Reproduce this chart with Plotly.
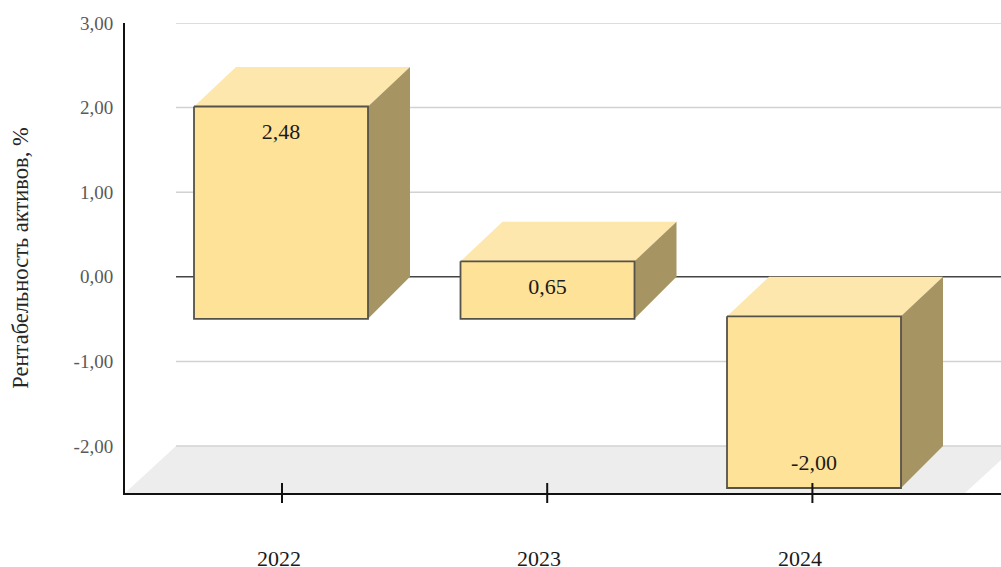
import plotly.graph_objects as go

years = ["2022", "2023", "2024"]
values = [2.48, 0.65, -2.00]
y_ticks = [3, 2, 1, 0, -1, -2]
y_tick_labels = ["3,00", "2,00", "1,00", "0,00", "-1,00", "-2,00"]
y_title = "Рентабельность активов, %"

W, H = 1001, 567
L, R, T, B = 125, 0, 23, 74
FONT = "Liberation Serif"

# axis scales (one x unit = distance between category ticks)
PX_X = 265.2
PX_Y = 84.6
X0 = -(282 - L) / PX_X
X1 = X0 + (W - L - R) / PX_X
Y1 = 3.0
Y0 = Y1 - (H - T - B) / PX_Y

HALF = 87 / PX_X
DEPTH_X = 42 / PX_X
DEPTH_TOP = 39.5 / PX_Y
DEPTH_BOTTOM = 42 / PX_Y
BAR_STEP = 266.5 / PX_X
BAR_OFFSET = -1 / PX_X
LABEL_PAD_POS = 27 / PX_Y
LABEL_PAD_NEG = 24 / PX_Y
GRID_X0 = X0 + 51 / PX_X
FLOOR_CUT = X1 - 36 / PX_X
FLOOR_Y = y_ticks[-1]

FRONT, TOP, SIDE = "#FEE298", "#FDE7AC", "#A69562"
EDGE = "#55524A"

fig = go.Figure()


def poly(xs, ys, fill, line=None):
    fig.add_trace(go.Scatter(
        x=xs, y=ys, mode="lines", fill="toself", fillcolor=fill,
        line=dict(color=line or fill, width=1.8 if line else 0),
        hoverinfo="skip", showlegend=False))


# floor
poly([X0, GRID_X0, X1, X1, FLOOR_CUT], [Y0, FLOOR_Y, FLOOR_Y, FLOOR_Y - 14 / PX_Y, Y0], "#EDEDED")

# grid lines
for t in y_ticks:
    fig.add_trace(go.Scatter(
        x=[GRID_X0, X1], y=[t, t], mode="lines",
        line=dict(color="#444444" if t == 0 else "#D2D2D2", width=1.5),
        hoverinfo="skip", showlegend=False))

# boxes
centres = [BAR_OFFSET + BAR_STEP * i for i in range(len(values))]
for c, v in zip(centres, values):
    hi, lo = max(v, 0), min(v, 0)
    fl, fr = c - HALF, c + HALF
    ft, fb = hi - DEPTH_TOP, lo - DEPTH_BOTTOM
    poly([fl, fl + DEPTH_X, fr + DEPTH_X, fr], [ft, hi, hi, ft], TOP)
    poly([fr, fr + DEPTH_X, fr + DEPTH_X, fr], [ft, hi, lo, fb], SIDE)
    poly([fl, fr, fr, fl, fl], [ft, ft, fb, fb, ft], FRONT, EDGE)

# value labels
label_y = [
    (v - DEPTH_TOP - LABEL_PAD_POS) if v >= 0 else (v - DEPTH_BOTTOM + LABEL_PAD_NEG)
    for v in values
]
fig.add_trace(go.Scatter(
    x=centres, y=label_y, mode="text",
    text=[f"{v:.2f}".replace(".", ",") for v in values],
    textposition="middle center",
    textfont=dict(family=FONT, size=22, color="#1A1A1A"),
    hoverinfo="skip", showlegend=False))

# category ticks crossing the axis
fig.add_trace(go.Scatter(
    x=list(range(len(years))), y=[Y0] * len(years), mode="markers",
    marker=dict(symbol="line-ns", size=14.3, line=dict(color="#111111", width=2)),
    cliponaxis=False, hoverinfo="skip", showlegend=False))

# category labels sit slightly left of their ticks
for i, (year, shift) in enumerate(zip(years, [-3, -8, -12])):
    fig.add_annotation(
        x=i, y=Y0, xref="x", yref="y", text=year, showarrow=False,
        xshift=shift, yshift=-65, yanchor="middle", xanchor="center",
        font=dict(family=FONT, size=22, color="#1A1A1A"))

fig.update_layout(
    width=W, height=H,
    margin=dict(l=L, r=R, t=T, b=B),
    paper_bgcolor="white", plot_bgcolor="white",
    showlegend=False,
    xaxis=dict(range=[X0, X1], showgrid=False, zeroline=False, showticklabels=False,
               ticks="", showline=True, linecolor="#111111", linewidth=2),
    yaxis=dict(range=[Y0, Y1], showgrid=False, zeroline=False,
               tickmode="array", tickvals=y_ticks, ticktext=y_tick_labels,
               ticks="outside", ticklen=6, tickcolor="rgba(0,0,0,0)",
               tickfont=dict(family=FONT, size=19, color="#595959"),
               showline=True, linecolor="#111111", linewidth=2,
               title=dict(text=y_title, standoff=39,
                          font=dict(family=FONT, size=22.5, color="#262626"))),
)

fig.write_html("out.html", config={"displayModeBar": False},
               post_script="document.body.style.margin='0';document.documentElement.style.overflow='hidden';")
